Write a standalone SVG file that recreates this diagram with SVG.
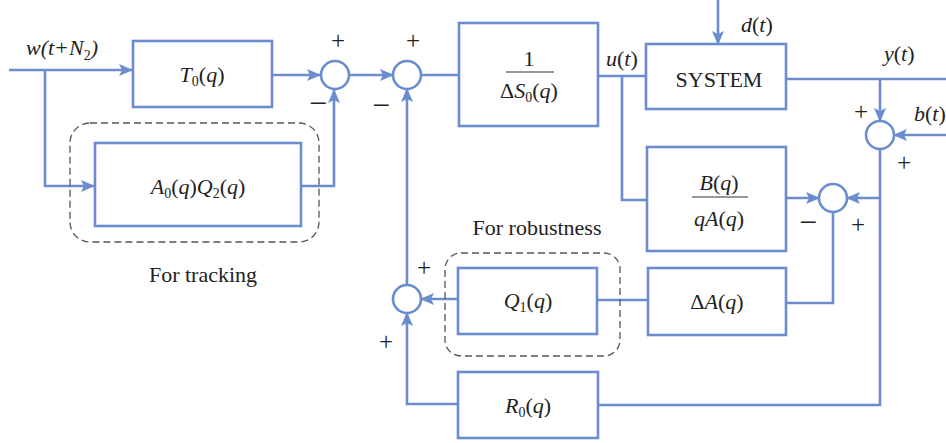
<svg xmlns="http://www.w3.org/2000/svg" width="946" height="443" viewBox="0 0 946 443" font-family="'Liberation Serif', 'DejaVu Serif', 'Times New Roman', serif">
<defs>
<style>
.blk{fill:#fff;stroke:#6b8dcf;stroke-width:2.6}
.sum{fill:#fff;stroke:#6b8dcf;stroke-width:2.6}
.ln{fill:none;stroke:#6b8dcf;stroke-width:2.6}
.dash{fill:none;stroke:#555;stroke-width:1.3;stroke-dasharray:7 4}
text{font-family:'Liberation Serif','DejaVu Serif','Times New Roman',serif;font-size:22px;fill:#222}
.i{font-style:italic}
.s{font-size:14px}
.pm{font-size:25px;text-anchor:middle}
.mn{font-size:32px;text-anchor:middle}
.c{text-anchor:middle}
</style>
<marker id="ar" markerWidth="14" markerHeight="12" refX="13" refY="6" orient="auto" markerUnits="userSpaceOnUse">
<path d="M0,0 L14,6 L0,12 L3,6 Z" fill="#6b8dcf"/>
</marker>
</defs>
<g id="connectors">
<path class="ln" d="M9,70 H132" marker-end="url(#ar)"/>
<path class="ln" d="M45,70 V186 H94" marker-end="url(#ar)"/>
<path class="ln" d="M272,75 H320" marker-end="url(#ar)"/>
<path class="ln" d="M301,186 H334 V90" marker-end="url(#ar)"/>
<path class="ln" d="M349,75 H393" marker-end="url(#ar)"/>
<path class="ln" d="M421,75 H459"/>
<path class="ln" d="M598,76 H646"/>
<path class="ln" d="M622,76 V200 H647"/>
<path class="ln" d="M718,0 V44" marker-end="url(#ar)"/>
<path class="ln" d="M786,79 H946"/>
<path class="ln" d="M880,79 V121" marker-end="url(#ar)"/>
<path class="ln" d="M946,135 H894" marker-end="url(#ar)"/>
<path class="ln" d="M880,149 V405 H598"/>
<path class="ln" d="M880,198 H847" marker-end="url(#ar)"/>
<path class="ln" d="M786,198 H819" marker-end="url(#ar)"/>
<path class="ln" d="M833,212 V303 H786"/>
<path class="ln" d="M648,300 H597"/>
<path class="ln" d="M458,299 H421" marker-end="url(#ar)"/>
<path class="ln" d="M458,404 H407 V313" marker-end="url(#ar)"/>
<path class="ln" d="M407,285 V89" marker-end="url(#ar)"/>
</g>
<g id="tracking-group">
<rect class="dash" x="70" y="123" width="249" height="119" rx="20"/>
<text class="c" x="203" y="282">For tracking</text>
</g>
<g id="robustness-group">
<rect class="dash" x="445" y="253" width="175" height="103" rx="16"/>
<text class="c" x="537" y="235">For robustness</text>
</g>
<g id="input-label"><text class="i" x="26" y="55">w(t+N<tspan class="s" dy="5" font-style="normal">2</tspan><tspan dy="-5">)</tspan></text></g>
<g id="T0">
<rect class="blk" x="133" y="41" width="139" height="66"/>
<text class="c" x="202" y="82"><tspan class="i">T</tspan><tspan class="s" dy="4">0</tspan><tspan dy="-4">(</tspan><tspan class="i">q</tspan>)</text>
</g>
<g id="A0Q2">
<rect class="blk" x="95" y="143" width="206" height="83"/>
<text class="c" x="198" y="194"><tspan class="i">A</tspan><tspan class="s" dy="4">0</tspan><tspan dy="-4">(</tspan><tspan class="i">q</tspan>)<tspan class="i">Q</tspan><tspan class="s" dy="4">2</tspan><tspan dy="-4">(</tspan><tspan class="i">q</tspan>)</text>
</g>
<g id="sum1">
<circle class="sum" cx="335" cy="75" r="14"/>
<text class="pm" x="338" y="49">+</text>
<text class="mn" x="318" y="114">−</text>
</g>
<g id="sum2">
<circle class="sum" cx="407" cy="75" r="14"/>
<text class="pm" x="413" y="49">+</text>
<text class="mn" x="381" y="116">−</text>
</g>
<g id="invS0">
<rect class="blk" x="459" y="23" width="139" height="103"/>
<text class="c" x="529" y="66">1</text>
<line x1="506" y1="72" x2="554" y2="72" stroke="#333" stroke-width="1.2"/>
<text class="c" x="529" y="98">Δ<tspan class="i">S</tspan><tspan class="s" dy="4">0</tspan><tspan dy="-4">(</tspan><tspan class="i">q</tspan>)</text>
</g>
<g id="u-label"><text x="606" y="66"><tspan class="i">u</tspan>(<tspan class="i">t</tspan>)</text></g>
<g id="system">
<rect class="blk" x="646" y="44" width="140" height="65"/>
<text class="c" x="719" y="87">SYSTEM</text>
</g>
<g id="d-label"><text x="741" y="32"><tspan class="i">d</tspan>(<tspan class="i">t</tspan>)</text></g>
<g id="y-label"><text x="884" y="61"><tspan class="i">y</tspan>(<tspan class="i">t</tspan>)</text></g>
<g id="b-label"><text x="914" y="121"><tspan class="i">b</tspan>(<tspan class="i">t</tspan>)</text></g>
<g id="sum3">
<circle class="sum" cx="880" cy="135" r="14"/>
<text class="pm" x="861" y="120">+</text>
<text class="pm" x="904" y="171">+</text>
</g>
<g id="BqA">
<rect class="blk" x="647" y="147" width="139" height="104"/>
<text class="c" x="719" y="190"><tspan class="i">B</tspan>(<tspan class="i">q</tspan>)</text>
<line x1="692" y1="197" x2="748" y2="197" stroke="#333" stroke-width="1.2"/>
<text class="c" x="719" y="226"><tspan class="i">qA</tspan>(<tspan class="i">q</tspan>)</text>
</g>
<g id="sum4">
<circle class="sum" cx="833" cy="198" r="14"/>
<text class="mn" x="808" y="233">−</text>
<text class="pm" x="858" y="233">+</text>
</g>
<g id="dA">
<rect class="blk" x="648" y="268" width="138" height="67"/>
<text class="c" x="717" y="309">Δ<tspan class="i">A</tspan>(<tspan class="i">q</tspan>)</text>
</g>
<g id="Q1">
<rect class="blk" x="458" y="268" width="139" height="66"/>
<text class="c" x="528" y="308"><tspan class="i">Q</tspan><tspan class="s" dy="4">1</tspan><tspan dy="-4">(</tspan><tspan class="i">q</tspan>)</text>
</g>
<g id="sum5">
<circle class="sum" cx="407" cy="299" r="14"/>
<text class="pm" x="424" y="276">+</text>
<text class="pm" x="386" y="350">+</text>
</g>
<g id="R0">
<rect class="blk" x="458" y="372" width="140" height="66"/>
<text class="c" x="528" y="413"><tspan class="i">R</tspan><tspan class="s" dy="4">0</tspan><tspan dy="-4">(</tspan><tspan class="i">q</tspan>)</text>
</g>
</svg>
